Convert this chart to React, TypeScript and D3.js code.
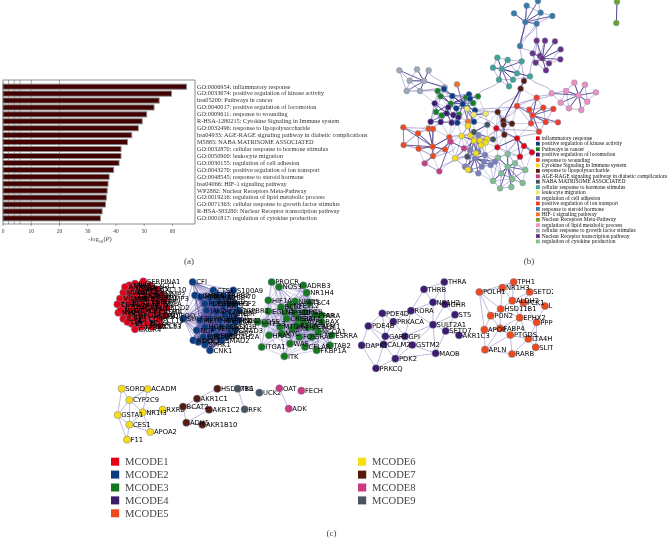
import React from "react";
import * as d3 from "d3";

type Pt = [number, number, string?];

// ---------- panel (a) ----------
const termLabels = [
  "GO:0006954: inflammatory response",
  "GO:0033674: positive regulation of kinase activity",
  "hsa05200: Pathways in cancer",
  "GO:0040017: positive regulation of locomotion",
  "GO:0009611: response to wounding",
  "R-HSA-1280215: Cytokine Signaling in Immune system",
  "GO:0032496: response to lipopolysaccharide",
  "hsa04933: AGE-RAGE signaling pathway in diabetic complications",
  "M5885: NABA MATRISOME ASSOCIATED",
  "GO:0032870: cellular response to hormone stimulus",
  "GO:0050900: leukocyte migration",
  "GO:0030155: regulation of cell adhesion",
  "GO:0043270: positive regulation of ion transport",
  "GO:0048545: response to steroid hormone",
  "hsa04066: HIF-1 signaling pathway",
  "WP2882: Nuclear Receptors Meta-Pathway",
  "GO:0019216: regulation of lipid metabolic process",
  "GO:0071363: cellular response to growth factor stimulus",
  "R-HSA-383280: Nuclear Receptor transcription pathway",
  "GO:0001817: regulation of cytokine production",
];
const termValues = [65, 59.7, 55.3, 53.5, 50.9, 49.3, 47.9, 45.6, 44.1, 41.8, 41.8, 41.1, 39.2, 37.6, 37.2, 36.9, 36.6, 36.3, 35.1, 34.5];
const gridValues = [2, 4, 6, 10, 20];
const axisTicks = [0, 10, 20, 30, 40, 50, 60];

// ---------- panel (b) ----------
const legendLabels = [
  "inflammatory response",
  "positive regulation of kinase activity",
  "Pathways in cancer",
  "positive regulation of locomotion",
  "response to wounding",
  "Cytokine Signaling in Immune system",
  "response to lipopolysaccharide",
  "AGE-RAGE signaling pathway in diabetic complications",
  "NABA MATRISOME ASSOCIATED",
  "cellular response to hormone stimulus",
  "leukocyte migration",
  "regulation of cell adhesion",
  "positive regulation of ion transport",
  "response to steroid hormone",
  "HIF-1 signaling pathway",
  "Nuclear Receptors Meta-Pathway",
  "regulation of lipid metabolic process",
  "cellular response to growth factor stimulus",
  "Nuclear Receptor transcription pathway",
  "regulation of cytokine production",
];
const legendColors = ["#e30613", "#0f3a80", "#14801f", "#3c1a70", "#ee4a1c", "#f7dc14", "#5a1a0f", "#cc3a80", "#47525c", "#3fa394", "#f0e868", "#7c7fb8", "#f03c2a", "#3a7aa8", "#f0752a", "#6aa52a", "#ef8fc0", "#a0aab0", "#6b2f85", "#7fc08a"];

// coordinates read in 3x crop units of the picture, one list per term (index into legend)
const bInflammatory: Pt[] = [[469, 385], [531, 415], [472, 442], [552, 438], [576, 457], [540, 470]];
const bKinase: Pt[] = [[312, 267], [337, 288], [387, 283], [390, 296], [368, 312], [349, 325], [405, 331], [402, 365], [352, 368], [382, 323]];
const bCancer: Pt[] = [[293, 273], [302, 289], [378, 292], [414, 289], [399, 309], [332, 311], [288, 336], [305, 346], [357, 344]];
const bLocomotion: Pt[] = [[284, 310], [325, 322], [340, 345], [272, 365], [302, 366], [335, 368], [320, 340], [355, 352]];
const bWounding: Pt[] = [[190, 382], [234, 400], [266, 386], [279, 387], [191, 435], [236, 446], [278, 440], [315, 448], [279, 468], [328, 412]];
const bCytokine: Pt[] = [[384, 378], [365, 408], [392, 406], [402, 422], [420, 422], [441, 417], [437, 428], [423, 436], [345, 475], [408, 460], [384, 509]];
const bLps: Pt[] = [[552, 243], [542, 266], [473, 336], [490, 362], [491, 374], [516, 371], [493, 404]];
const bAge: Pt[] = [[332, 425], [254, 490], [298, 514], [372, 445]];
const bNaba: Pt[] = [[442, 374], [402, 396], [459, 418], [382, 470]];
const bHormone: Pt[] = [[472, 173], [503, 180], [545, 184], [459, 203], [485, 207], [531, 220], [570, 229], [477, 239], [519, 239], [507, 259]];
const bLeukocyte: Pt[] = [[381, 326], [401, 344], [437, 341], [384, 378]];
const bAdhesion: Pt[] = [[415, 405], [415, 455], [390, 450], [435, 465], [375, 500], [425, 500], [452, 495], [415, 520], [465, 485], [405, 475], [432, 485], [390, 510]];
const bIon: Pt[] = [[590, 293], [531, 318], [568, 329], [610, 323], [640, 327], [578, 346], [573, 370], [617, 366], [654, 367], [597, 395]];
const bSteroid: Pt[] = [[522, 40], [560, 17], [594, 3], [602, 38], [637, 48], [556, 66], [590, 71], [540, 138]];
const bHif: Pt[] = [[351, 253], [384, 365]];
const bNuclearMeta: Pt[] = [[831, 5], [829, 69]];
const bLipid: Pt[] = [[635, 280], [678, 273], [703, 248], [735, 254], [768, 277], [716, 286], [742, 305], [662, 308], [687, 325], [724, 330]];
const bGrowth: Pt[] = [[178, 211], [231, 208], [266, 211], [209, 242], [252, 243], [200, 273], [240, 273], [314, 262]];
const bNuclearTrans: Pt[] = [[590, 122], [615, 122], [645, 124], [662, 148], [661, 178], [578, 160], [600, 168], [587, 188], [627, 190], [618, 211], [607, 175]];
const bCytokineProd: Pt[] = [[503, 462], [474, 473], [525, 490], [556, 510], [484, 520], [517, 537], [459, 543], [548, 549], [480, 565], [514, 561], [503, 500]];
const bClusters: [Pt[], number][] = [
  [bGrowth, 17], [bSteroid, 13], [bHormone, 9], [bNuclearTrans, 18], [bLipid, 16], [bNuclearMeta, 15], [bIon, 12], [bCytokineProd, 19], [bAdhesion, 11],
  [bWounding, 4], [bLps, 6], [bAge, 7], [bHif, 14], [bCancer, 2], [bLocomotion, 3], [bKinase, 1], [bLeukocyte, 10], [bCytokine, 5], [bNaba, 8], [bInflammatory, 0],
];
const bBridges: [number, number, number, number][] = [
  [540, 138, 545, 184], [540, 138, 590, 71], [540, 138, 578, 160], [590, 122, 570, 229], [545, 184, 552, 243], [570, 229, 552, 243], [552, 243, 542, 266],
  [542, 266, 531, 318], [570, 229, 635, 280], [635, 280, 531, 318], [590, 293, 635, 280], [414, 289, 477, 239], [473, 336, 542, 266], [312, 267, 240, 273],
  [314, 262, 266, 211], [190, 382, 266, 386], [279, 387, 350, 345], [531, 318, 405, 331], [473, 336, 405, 331], [190, 382, 191, 435], [328, 412, 385, 400],
  [298, 514, 390, 450], [254, 490, 345, 440], [531, 415, 503, 462], [540, 470, 525, 490], [576, 457, 531, 415], [469, 385, 405, 331], [469, 385, 597, 395],
  [531, 415, 597, 395], [469, 385, 531, 318], [441, 417, 469, 385], [415, 455, 423, 436], [590, 71, 590, 122], [556, 66, 540, 138],
];

// ---------- panel (c) ----------
const cRed: Pt[] = [[100, 28, "SERPINA1"], [75, 35, "IL6"], [58, 40, "TNF"], [78, 47, "TLR4"], [50, 60, "IL1B"], [70, 62, "CXCL8"], [95, 55, "AGTN"], [125, 65, "CCL2"], [105, 70, "STAT3"], [90, 80, "IL10"], [40, 62, "ICAM1"], [30, 80, "VCAM1"], [50, 82, "SELE"], [70, 80, "NFKB1"], [35, 105, "PTGS2"], [22, 97, "CD14"], [25, 122, "MMP9"], [45, 125, "CCL5"], [60, 110, "HMOX1"], [80, 115, "CXCL2"], [105, 115, "CRP"], [125, 110, "FN1"], [150, 90, "LEP"], [160, 95, "IL1A"], [130, 135, "TGFB1"], [60, 135, "IL4"], [40, 140, "IL13"], [65, 155, "CCL3"], [75, 172, "CXCR4"], [95, 165, "LPAR2"], [105, 140, "CD40"], [125, 165, "CXCL13"], [145, 145, "CCL19"], [140, 90, "PLAU"], [115, 95, "SPP1"], [85, 100, "APOE"], [55, 95, "ALB"], [150, 118, "CD44"],
  [120, 40, "CXCL1"], [140, 52, "CXCL10"], [155, 68, "MMP2"], [110, 50, "CCR5"], [130, 78, "TIMP1"], [165, 80, "MMP3"], [170, 108, "SOD2"], [165, 130, "ADIPOQ"], [150, 160, "CCR7"], [110, 155, "NOX4"], [90, 130, "PLG"], [75, 140, "F3"], [95, 95, "IL18"], [75, 70, "CSF2"], [65, 48, "ITGB2"], [45, 45, "ANXA1"], [32, 115, "MPO"], [52, 150, "LTA"], [135, 118, "CASP1"], [120, 130, "NLRP3"], [112, 82, "TLR2"], [148, 105, "MIF"]];
const cBlue: Pt[] = [[38, 30, "CFI"], [100, 55, "CTSK"], [160, 55, "S100A9"], [45, 70, "LGMN"], [62, 75, "PTGIR"], [110, 68, "KIT"], [130, 72, "ERBB2"], [150, 75, "HSP70"], [165, 95, "FGF2"], [75, 95, "PDGFB"], [100, 95, "EGFR"], [130, 100, "AKT1"], [150, 120, "MAPK1"], [110, 120, "SRC"], [80, 115, "JAK2"], [10, 140, "SULF1"], [60, 145, "MET"], [90, 140, "PIK3R1"], [135, 130, "IGF1R"], [165, 125, "INSR"], [175, 145, "CDK2"], [75, 165, "HGF"], [50, 175, "NGF"], [100, 170, "VEGFA"], [125, 165, "CCND1"], [150, 165, "GSK3B"], [165, 175, "SMAD3"], [40, 205, "ROCK1"], [55, 210, "PTK2"], [75, 218, "SPHK1"], [110, 190, "ESR1"], [140, 195, "DDAH2A"], [90, 235, "CNK1"],
  [118, 88, "PRKCD"], [145, 95, "RAF1"], [90, 78, "EPHA2"], [120, 145, "MAP2K1"], [145, 145, "PTPN11"], [90, 195, "PDPK1"], [125, 205, "SMAD2"], [70, 195, "FYN"], [150, 185, "BMP2"], [165, 150, "LCK"], [175, 115, "TGFBR1"]];
const cGreen: Pt[] = [[50, 30, "PROCR"], [72, 45, "NOS3"], [145, 40, "ADRB3"], [155, 62, "NR1H4"], [40, 85, "HIF1A"], [78, 105, "BCL2"], [120, 88, "NFAT5"], [162, 92, "TSC4"], [40, 118, "EGLN1"], [90, 122, "EP300"], [120, 122, "SDMS"], [180, 130, "PPARA"], [95, 140, "CREB1"], [130, 140, "SIRT1"], [8, 150, "CD55"], [30, 155, "TP53"], [145, 150, "ATF4"], [75, 165, "MTOR"], [112, 170, "JUN"], [133, 195, "FOS"], [170, 195, "SRAP"], [42, 190, "HRAS"], [80, 185, "MYC"], [150, 225, "CFLAR"], [105, 215, "WAS"], [20, 225, "ITGA1"], [185, 235, "FKBP1A"], [88, 253, "ITK"], [225, 220, "TAB2"], [200, 150, "BAX"], [175, 165, "CALM1"], [230, 190, "ESRRA"],
  [105, 100, "NFE2L2"], [150, 120, "PGR"], [160, 165, "CEBPB"], [125, 160, "RELA"], [190, 180, "NCOA1"], [200, 130, "AR"]];
const cPurple: Pt[] = [[493, 36, "THRA"], [432, 58, "THRB"], [459, 97, "NR1H2"], [495, 103, "IGHR"], [393, 122, "RORA"], [525, 134, "ST5"], [307, 130, "PDE4D"], [340, 155, "PRKACA"], [459, 164, "SULT2A1"], [265, 168, "PDE4B"], [497, 183, "SETD7"], [316, 199, "GART"], [375, 199, "GPI"], [537, 196, "AKR1C3"], [245, 226, "DAPK1"], [311, 223, "CALM2"], [397, 225, "GSTM2"], [467, 250, "MAOB"], [346, 266, "PDK2"], [288, 295, "PRKCQ"]];
const cOrange: Pt[] = [[161, 36, "TPH1"], [127, 53, "NR1H3"], [58, 66, "POLH1"], [209, 66, "SETD2"], [157, 92, "ALDH2"], [190, 98, "PCK1"], [255, 108, "LEP"], [122, 117, "HSD11B1"], [92, 137, "PON2"], [179, 143, "EPHX2"], [230, 157, "PPP"], [73, 179, "APOE"], [120, 175, "FABP4"], [151, 195, "PTGDS"], [205, 207, "LTA4H"], [227, 232, "SLIT2"], [75, 239, "APLN"], [156, 252, "RARB"]];
const cYellow: Pt[] = [[65, 56, "SORD"], [143, 57, "ACADM"], [88, 90, "CYP2C9"], [53, 135, "GSTA1"], [128, 127, "NR1I3"], [188, 119, "RXRB"], [88, 164, "CES1"], [151, 186, "APOA2"], [81, 209, "F11"]];
const cBrown: Pt[] = [[352, 56, "HSD17B6"], [291, 86, "AKR1C1"], [249, 110, "BCAT2"], [327, 119, "AKR1C2"], [259, 158, "ADH5"], [307, 164, "AKR1B10"]];
const cSlate: Pt[] = [[413, 56, "TK1"], [478, 68, "UCK2"], [434, 118, "RFK"]];
const cMagenta: Pt[] = [[538, 55, "OAT"], [604, 62, "FECH"], [566, 116, "ADK"]];

const moduleLegendLeft = ["MCODE1", "MCODE2", "MCODE3", "MCODE4", "MCODE5"];
const moduleLegendRight = ["MCODE6", "MCODE7", "MCODE8", "MCODE9"];
const moduleColorsLeft = ["#e30613", "#0f3a80", "#14781f", "#3c1a6e", "#f0481a"];
const moduleColorsRight = ["#f7dc14", "#541a10", "#cc3a80", "#4b5560"];

const frame = (origin: number) => d3.scaleLinear().domain([0, 3]).range([origin, origin + 1]);

function meshEdges(pts: Pt[], maxLen: number, dense = false): [number, number][] {
  const out: [number, number][] = [];
  const far = (a: number, b: number) => Math.hypot(pts[a][0] - pts[b][0], pts[a][1] - pts[b][1]) > maxLen;
  if (dense || pts.length < 3) {
    pts.forEach((_, i) => pts.forEach((_, j) => { if (i < j && !far(i, j)) out.push([i, j]); }));
    return out;
  }
  const del = d3.Delaunay.from(pts, (p) => p[0], (p) => p[1]);
  const t = del.triangles;
  for (let i = 0; i < t.length; i += 3) {
    [[t[i], t[i + 1]], [t[i + 1], t[i + 2]], [t[i + 2], t[i]]].forEach(([a, b]) => {
      if (a < b && !far(a, b)) out.push([a, b]);
    });
  }
  return out;
}

function Network({ pts, color, ox, oy, maxLen, dense, opacity = 0.85, edge = "#8379bd", clip }: { pts: Pt[]; color: string; ox: number; oy: number; maxLen: number; dense?: boolean; opacity?: number; edge?: string; clip?: string }) {
  const sx = frame(ox), sy = frame(oy);
  const edges = meshEdges(pts, maxLen, dense);
  return (
    <g>
      {edges.map(([a, b], i) => (
        <line key={i} x1={sx(pts[a][0])} y1={sy(pts[a][1])} x2={sx(pts[b][0])} y2={sy(pts[b][1])} stroke={edge} strokeWidth={0.6} opacity={opacity} />
      ))}
      {pts.map((p, i) => (
        <circle key={i} cx={sx(p[0])} cy={sy(p[1])} r={3.6} fill={color} stroke="#6f7f9f" strokeWidth={0.5} />
      ))}
      <g clipPath={clip}>
        {pts.map((p, i) => (
          <text key={i} x={sx(p[0]) + 3.6} y={sy(p[1]) + 2.4} fontSize={6.8} fontFamily="'DejaVu Sans'" fill="#000">{p[2]}</text>
        ))}
      </g>
    </g>
  );
}

export default function App() {
  const x = d3.scaleLinear().domain([0, 68]).range([3, 195]);
  const y = d3.scaleBand<string>().domain(termLabels).range([83.2, 221.8]).paddingInner(0.26).paddingOuter(0.13);
  const sxB = frame(340), syB = frame(0);
  const link = d3.linkVertical<any, [number, number]>().x((d) => sxB(d[0])).y((d) => syB(d[1]));
  const legendY = d3.scalePoint<string>().domain(legendLabels).range([138.3, 241.5]);
  const modY = d3.scalePoint<string>().domain(moduleLegendLeft).range([461.7, 513.3]);
  const modYR = (i: number) => modY(moduleLegendLeft[i]) as number;
  const allB: Pt[] = bClusters.flatMap(([p]) => p).filter((p) => p[1] > 260 && p[1] < 560 && p[0] < 600);

  return (
    <svg width={667} height={540} viewBox="0 0 667 540" style={{ position: "absolute", left: 0, top: 0, background: "#fff" }}>
      <defs>
        <filter id="soft" x="0" y="0" width="100%" height="100%"><feGaussianBlur stdDeviation="0.28" /></filter>
        <clipPath id="orangeClip"><rect x={400} y={270} width={153} height={120} /></clipPath>
      </defs>
      <g filter="url(#soft)">
        {/* panel a */}
        {gridValues.map((v) => (
          <line key={v} x1={x(v)} x2={x(v)} y1={80} y2={224} stroke="#555" strokeWidth={0.5} />
        ))}
        {termLabels.map((t, i) => (
          <rect key={t} x={x(0)} y={y(t)} width={x(termValues[i]) - x(0)} height={y.bandwidth()} fill="#420404" stroke="#8a8a8a" strokeWidth={0.9} />
        ))}
        <rect x={3} y={80} width={192} height={144} fill="none" stroke="#444" strokeWidth={0.6} />
        {axisTicks.map((v) => (
          <g key={v}>
            <line x1={x(v)} x2={x(v)} y1={224} y2={226} stroke="#444" strokeWidth={0.5} />
            <text x={x(v)} y={232.5} fontSize={5.5} textAnchor="middle" fontFamily="'Liberation Serif'" fill="#444">{v}</text>
          </g>
        ))}
        <text x={100} y={241} fontSize={6.5} textAnchor="middle" fontFamily="'Liberation Serif'" fill="#444">
          -log<tspan fontSize={4.6} dy={1.6}>10</tspan><tspan dy={-1.6}>(</tspan><tspan fontStyle="italic">P</tspan>)
        </text>
        {termLabels.map((t) => (
          <text key={t} x={197} y={(y(t) as number) + y.bandwidth() / 2 + 1.9} fontSize={6.25} fontFamily="'Liberation Serif'" fill="#333">{t}</text>
        ))}
        <text x={189} y={264} fontSize={9} textAnchor="middle" fontFamily="'Liberation Serif'" fill="#444">(a)</text>

        {/* panel b */}
        {meshEdges(allB, 62).map(([a, b], i) => (
          <line key={i} x1={sxB(allB[a][0])} y1={syB(allB[a][1])} x2={sxB(allB[b][0])} y2={syB(allB[b][1])} stroke="#8379bd" strokeWidth={0.5} opacity={0.75} />
        ))}
        {bBridges.map((b, i) => (
          <path key={i} d={link({ source: [b[0], b[1]], target: [b[2], b[3]] }) as string} fill="none" stroke="#6f63ad" strokeWidth={0.6} opacity={0.85} />
        ))}
        {bClusters.map(([pts], ci) => {
          const edges = meshEdges(pts, 90);
          const cx = d3.mean(pts, (p) => p[0]) as number, cy = d3.mean(pts, (p) => p[1]) as number;
          const hub = d3.leastIndex(pts, (p) => Math.hypot(p[0] - cx, p[1] - cy)) as number;
          return (
            <g key={ci}>
              {edges.map(([a, b], i) => (
                <line key={i} x1={sxB(pts[a][0])} y1={syB(pts[a][1])} x2={sxB(pts[b][0])} y2={syB(pts[b][1])} stroke="#7b70b8" strokeWidth={0.5} />
              ))}
              {pts.map((p, i) => (
                <line key={i} x1={sxB(pts[hub][0])} y1={syB(pts[hub][1])} x2={sxB(p[0])} y2={syB(p[1])} stroke="#3d2d86" strokeWidth={0.9} opacity={0.85} />
              ))}
            </g>
          );
        })}
        {bClusters.map(([pts, ci]) =>
          pts.map((p, i) => (
            <circle key={`${ci}-${i}`} cx={sxB(p[0])} cy={syB(p[1])} r={2.9} fill={legendColors[ci]} stroke="#7f93ad" strokeWidth={0.5} />
          ))
        )}
        {legendLabels.map((t, i) => (
          <g key={t}>
            <rect x={536} y={(legendY(t) as number) - 1.9} width={3.8} height={3.8} fill={legendColors[i]} />
            <text x={541.7} y={(legendY(t) as number) + 1.6} fontSize={5.5} fontFamily="'Liberation Serif'" fill="#111">{t}</text>
          </g>
        ))}
        <text x={529} y={264} fontSize={9} textAnchor="middle" fontFamily="'Liberation Serif'" fill="#444">(b)</text>

        {/* panel c */}
        <Network pts={cGreen} color="#14781f" ox={255} oy={272} maxLen={110} dense opacity={0.6} />
        <Network pts={cBlue} color="#0f3a80" ox={180} oy={272} maxLen={130} dense opacity={0.7} edge="#5b4da5" />
        <Network pts={cRed} color="#e30613" ox={110} oy={272} maxLen={90} dense opacity={0.8} edge="#3a1030" />
        <Network pts={cPurple} color="#3c1a6e" ox={280} oy={270} maxLen={125} />
        <Network pts={cOrange} color="#f0481a" ox={460} oy={270} maxLen={115} clip="url(#orangeClip)" />
        <Network pts={cYellow} color="#f7dc14" ox={100} oy={370} maxLen={110} />
        <Network pts={cBrown} color="#541a10" ox={100} oy={370} maxLen={110} />
        <Network pts={cSlate} color="#4b5560" ox={100} oy={370} maxLen={110} />
        <Network pts={cMagenta} color="#cc3a80" ox={100} oy={370} maxLen={110} />

        {moduleLegendLeft.map((t, i) => (
          <g key={t}>
            <rect x={111} y={modYR(i) - 4} width={8.2} height={8} fill={moduleColorsLeft[i]} />
            <text x={125} y={modYR(i) + 3.3} fontSize={10.6} fontFamily="'Liberation Serif'" fill="#444">{t}</text>
          </g>
        ))}
        {moduleLegendRight.map((t, i) => (
          <g key={t}>
            <rect x={358} y={modYR(i) - 4} width={8.2} height={8} fill={moduleColorsRight[i]} />
            <text x={372} y={modYR(i) + 3.3} fontSize={10.6} fontFamily="'Liberation Serif'" fill="#444">{t}</text>
          </g>
        ))}
        <text x={331.5} y={536} fontSize={9} textAnchor="middle" fontFamily="'Liberation Serif'" fill="#444">(c)</text>
      </g>
    </svg>
  );
}
